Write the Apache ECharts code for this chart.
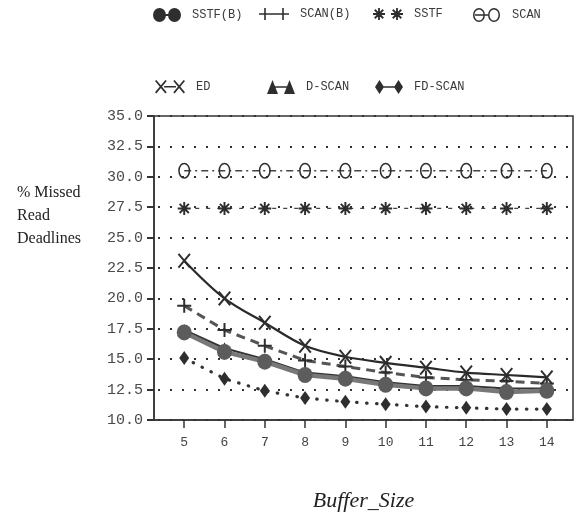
<!DOCTYPE html>
<html>
<head>
<meta charset="utf-8">
<script src="https://cdn.jsdelivr.net/npm/echarts@6/dist/echarts.min.js"></script>
<style>
  html, body { margin: 0; padding: 0; background: #fff; }
  #chart { width: 581px; height: 517px; }
</style>
</head>
<body>
<div id="chart"></div>
<script>
// Buffer sizes on the x axis
const bufferSizes = [5, 6, 7, 8, 9, 10, 11, 12, 13, 14];

// % missed read deadlines per scheduling policy
const sstfB   = [17.2, 15.6, 14.8, 13.7, 13.4, 12.9, 12.6, 12.6, 12.3, 12.4];
const scanB   = [19.4, 17.4, 16.1, 14.9, 14.4, 13.9, 13.5, 13.3, 13.2, 13.0];
const sstf    = [27.4, 27.4, 27.4, 27.4, 27.4, 27.4, 27.4, 27.4, 27.4, 27.4];
const scan    = [30.5, 30.5, 30.5, 30.5, 30.5, 30.5, 30.5, 30.5, 30.5, 30.5];
const ed      = [23.1, 20.0, 18.0, 16.1, 15.2, 14.7, 14.3, 13.9, 13.7, 13.5];
const dScan   = [17.4, 15.9, 15.0, 13.9, 13.6, 13.1, 12.8, 12.8, 12.6, 12.6];
const fdScan  = [15.1, 13.4, 12.4, 11.8, 11.5, 11.3, 11.1, 11.0, 10.9, 10.9];

// Y axis tick values
const yTicks = [10, 12.5, 15, 17.5, 20, 22.5, 25, 27.5, 30, 32.5, 35];

const MONO = '"Liberation Mono", "DejaVu Sans Mono", monospace';
const SERIF = '"Liberation Serif", "DejaVu Serif", serif';
const INK = '#2e2e2e';

// ---- symbol path helpers ----
function f(n) { return (Math.round(n * 100) / 100).toString(); }
// A set of thin bars through (cx, cy) at the given angles (degrees)
function spokes(cx, cy, r, t, angles) {
  let p = '';
  angles.forEach(a => {
    const th = a * Math.PI / 180;
    const dx = Math.cos(th), dy = Math.sin(th);
    const nx = -dy, ny = dx;
    const pts = [
      [cx - r * dx - t * nx, cy - r * dy - t * ny],
      [cx + r * dx - t * nx, cy + r * dy - t * ny],
      [cx + r * dx + t * nx, cy + r * dy + t * ny],
      [cx - r * dx + t * nx, cy - r * dy + t * ny]
    ];
    p += 'M' + pts.map(q => f(q[0]) + ',' + f(q[1])).join(' L') + ' Z ';
  });
  return p;
}
function rect(x0, y0, x1, y1) {
  return 'M' + f(x0) + ',' + f(y0) + ' H' + f(x1) + ' V' + f(y1) + ' H' + f(x0) + ' Z ';
}
function ellipse(cx, cy, rx, ry) {
  return 'M' + f(cx - rx) + ',' + f(cy) + ' A' + f(rx) + ',' + f(ry) + ' 0 1,1 ' + f(cx + rx) + ',' + f(cy) +
         ' A' + f(rx) + ',' + f(ry) + ' 0 1,1 ' + f(cx - rx) + ',' + f(cy) + ' Z ';
}
function ring(cx, cy, rx, ry, w) {
  const ix = rx - w, iy = ry - w;
  return ellipse(cx, cy, rx, ry) +
    'M' + f(cx - ix) + ',' + f(cy) + ' A' + f(ix) + ',' + f(iy) + ' 0 1,0 ' + f(cx + ix) + ',' + f(cy) +
    ' A' + f(ix) + ',' + f(iy) + ' 0 1,0 ' + f(cx - ix) + ',' + f(cy) + ' Z ';
}
function tri(x0, w, h) {
  return 'M' + f(x0) + ',' + f(h) + ' L' + f(x0 + w / 2) + ',0 L' + f(x0 + w) + ',' + f(h) + ' Z ';
}
function diamond(cx, w, h) {
  return 'M' + f(cx) + ',0 L' + f(cx + w / 2) + ',' + f(h / 2) + ' L' + f(cx) + ',' + f(h) +
         ' L' + f(cx - w / 2) + ',' + f(h / 2) + ' Z ';
}

// marker shapes
const SYM_PLUS = 'path://' + spokes(6, 6, 6, 0.85, [0, 90]);
const SYM_X    = 'path://' + spokes(6, 6, 7.2, 0.8, [50, 130]);
const SYM_AST  = 'path://' + spokes(6, 6, 6, 0.9, [0, 45, 90, 135]);
const SYM_RING = 'path://' + ring(5.5, 7.5, 5.5, 7.5, 1.4);

// legend icons: a pair of markers with a short joining stroke
const ICON_SSTFB = 'path://' + ellipse(6.5, 7, 6.5, 7) + ellipse(21.5, 7, 6.5, 7) + rect(12, 6, 16, 8);
const ICON_SCANB = 'path://' + spokes(6, 7, 6, 0.8, [0, 90]) + spokes(24, 7, 6, 0.8, [0, 90]) + rect(11, 6.2, 19, 7.8);
const ICON_SSTF  = 'path://' + spokes(6, 7, 6, 0.9, [0, 45, 90, 135]) + spokes(24, 7, 6, 0.9, [0, 45, 90, 135]);
const ICON_SCAN  = 'path://' + ring(7, 7, 6, 7, 1.5) + ring(22, 7, 6, 7, 1.5) + rect(3, 6.3, 16, 7.7);
const ICON_ED    = 'path://' + spokes(6, 7, 7.5, 0.8, [50, 130]) + spokes(23, 7, 7.5, 0.8, [50, 130]) + rect(9, 6.3, 20, 7.7);
const ICON_DSCAN = 'path://' + tri(0, 11, 14) + tri(17, 11, 14) + rect(8, 6.3, 20, 7.7);
const ICON_FD    = 'path://' + diamond(4.5, 9, 14) + diamond(23.5, 9, 14) + rect(7, 6.3, 21, 7.7);

function pairs(ys) { return bufferSizes.map((x, i) => [x, ys[i]]); }

const legendText = { fontFamily: MONO, fontSize: 12, color: '#3a3a3a', padding: [0, 0, 0, 6] };
function legendAt(name, icon, left, top, w, h) {
  return {
    data: [{ name: name, icon: icon }],
    left: left, top: top, itemWidth: w, itemHeight: h,
    textStyle: legendText, itemStyle: { color: INK }, selectedMode: false
  };
}

const chart = echarts.init(document.getElementById('chart'), null, { renderer: 'canvas' });

chart.setOption({
  animation: false,
  backgroundColor: '#ffffff',
  title: {
    text: '% Missed\nRead\nDeadlines',
    left: 12, top: 176,
    textStyle: { fontFamily: SERIF, fontSize: 16, fontWeight: 'normal', color: '#222', lineHeight: 23 }
  },
  legend: [
    legendAt('SSTF(B)', ICON_SSTFB, 148, 3, 28, 14),
    legendAt('SCAN(B)', ICON_SCANB, 254, 3, 30, 14),
    legendAt('SSTF',    ICON_SSTF,  368, 3, 30, 14),
    legendAt('SCAN',    ICON_SCAN,  468, 3, 29, 14),
    legendAt('ED',      ICON_ED,    150, 75, 30, 14),
    legendAt('D-SCAN',  ICON_DSCAN, 262, 75, 28, 14),
    legendAt('FD-SCAN', ICON_FD,    370, 75, 28, 14)
  ],
  grid: {
    left: 154, right: 8, top: 116, bottom: 91,
    show: true, borderColor: '#333', borderWidth: 1.5, backgroundColor: 'transparent'
  },
  xAxis: {
    type: 'value',
    min: 4.25, max: 14.65,
    interval: 1,
    name: 'Buffer_Size',
    nameLocation: 'middle',
    nameGap: 70,
    nameTextStyle: { fontFamily: SERIF, fontStyle: 'italic', fontSize: 22, color: '#222' },
    axisLine: { show: true, lineStyle: { color: '#333', width: 1.5 } },
    axisTick: {
      show: true, length: 8, lineStyle: { color: '#333', width: 1.5 },
      customValues: bufferSizes
    },
    axisLabel: {
      fontFamily: MONO, fontSize: 13, color: '#444', margin: 16,
      customValues: bufferSizes
    },
    splitLine: { show: false }
  },
  yAxis: {
    type: 'value',
    min: 10, max: 35, interval: 2.5,
    axisLine: { show: true, lineStyle: { color: '#333', width: 1.5 } },
    axisTick: { show: true, length: 7, lineStyle: { color: '#333', width: 2 }, customValues: yTicks },
    axisLabel: {
      fontFamily: MONO, fontSize: 15, color: '#4a4a4a', margin: 11,
      customValues: yTicks,
      formatter: v => v.toFixed(1)
    },
    splitLine: {
      show: true,
      lineStyle: { color: '#333', width: 2, type: [2, 10], dashOffset: -4 }
    }
  },
  series: [
    {
      name: 'SCAN', type: 'line', data: pairs(scan),
      symbol: SYM_RING, symbolSize: [12, 16],
      itemStyle: { color: INK },
      lineStyle: { color: '#444', width: 1.6, type: [7, 4, 2, 4] },
      z: 3
    },
    {
      name: 'SSTF', type: 'line', data: pairs(sstf),
      symbol: SYM_AST, symbolSize: 13,
      itemStyle: { color: INK },
      lineStyle: { color: '#444', width: 1.4, type: [4, 7] },
      z: 3
    },
    {
      name: 'ED', type: 'line', data: pairs(ed), smooth: 0.35,
      symbol: SYM_X, symbolSize: [13, 15],
      itemStyle: { color: INK },
      lineStyle: { color: '#2a2a2a', width: 2.2 },
      z: 3
    },
    {
      name: 'SCAN(B)', type: 'line', data: pairs(scanB),
      symbol: SYM_PLUS, symbolSize: 14,
      itemStyle: { color: INK },
      lineStyle: { color: '#555', width: 3, type: [9, 6] },
      z: 3
    },
    {
      name: 'FD-SCAN', type: 'line', data: pairs(fdScan),
      symbol: 'diamond', symbolSize: [10, 14],
      itemStyle: { color: INK },
      lineStyle: { color: '#333', width: 3.2, type: [0.5, 9.5], cap: 'round' },
      z: 3
    },
    {
      name: 'D-SCAN', type: 'line', data: pairs(dScan),
      symbol: 'triangle', symbolSize: [11, 12],
      itemStyle: { color: INK },
      lineStyle: { color: '#333', width: 2 },
      z: 4
    },
    {
      name: 'SSTF(B)', type: 'line', data: pairs(sstfB),
      symbol: 'circle', symbolSize: [15, 16],
      itemStyle: { color: '#5c5c5c' },
      lineStyle: { color: '#787878', width: 4.5 },
      z: 5
    }
  ]
});
</script>
</body>
</html>
